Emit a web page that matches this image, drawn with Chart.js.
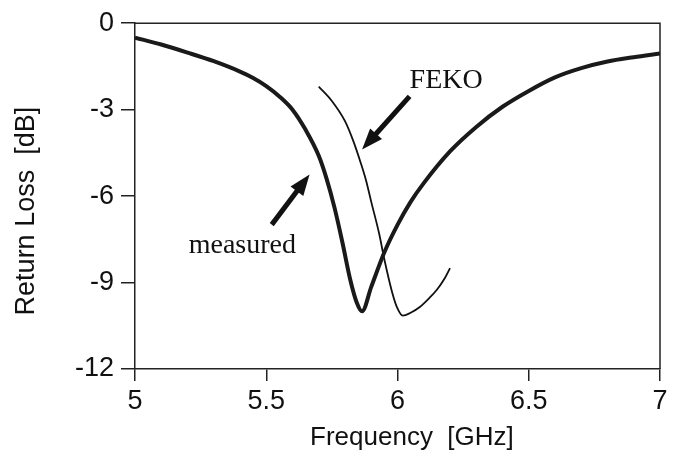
<!DOCTYPE html>
<html>
<head>
<meta charset="utf-8">
<script src="https://cdn.jsdelivr.net/npm/chart.js@4.4.0/dist/chart.umd.min.js"></script>
<style>
  body { margin: 0; background: #fff; }
  #wrap { width: 684px; height: 463px; }
</style>
</head>
<body>
<div id="wrap"><canvas id="chart"></canvas></div>
<script>
// measured return loss
const measuredFreq = [5.0, 5.1, 5.2, 5.3, 5.4, 5.45, 5.5, 5.55, 5.6, 5.65, 5.7, 5.73, 5.76, 5.79, 5.82, 5.845, 5.865,
  5.9, 5.95, 6.0, 6.05, 6.1, 6.2, 6.3, 6.4, 6.5, 6.6, 6.7, 6.8, 6.9, 7.0];
const measuredRL = [-0.5, -0.74, -1.02, -1.32, -1.68, -1.9, -2.18, -2.54, -3.0, -3.7, -4.6, -5.4, -6.4, -7.6, -8.9, -9.7, -10.0,
  -9.15, -7.95, -7.0, -6.2, -5.55, -4.45, -3.6, -2.9, -2.35, -1.88, -1.56, -1.33, -1.18, -1.05];

// FEKO simulation
const fekoFreq = [5.70, 5.75, 5.80, 5.83, 5.86, 5.88, 5.90, 5.93, 5.95, 5.98, 6.00, 6.02, 6.05, 6.085, 6.12, 6.15, 6.18, 6.20];
const fekoRL = [-2.2, -2.7, -3.4, -4.05, -4.85, -5.45, -6.2, -7.3, -8.2, -9.35, -9.9, -10.15, -10.05, -9.85, -9.55, -9.25, -8.85, -8.5];

const xTicks = [5, 5.5, 6, 6.5, 7];
const yTicks = [-12, -9, -6, -3, 0];

const toPoints = (xs, ys) => xs.map((x, i) => ({ x: x, y: ys[i] }));

// annotation arrows, in data units: [tailX, tailY, tipX, tipY]
const arrows = [
  [6.046, -2.54, 5.865, -4.38],
  [5.521, -6.99, 5.665, -5.25]
];
const notes = [
  { text: "FEKO", x: 6.046, y: -2.26, align: "left" },
  { text: "measured", x: 5.409, y: -7.99, align: "center" }
];

const frame = {
  id: 'frame',
  afterDraw(chart) {
    const { ctx, chartArea: a } = chart;
    ctx.save();
    ctx.strokeStyle = '#222';
    ctx.lineWidth = 1.5;
    ctx.beginPath();
    ctx.moveTo(a.left, a.top);
    ctx.lineTo(a.right, a.top);
    ctx.lineTo(a.right, a.bottom);
    ctx.stroke();
    ctx.restore();
  }
};

const notesPlugin = {
  id: 'notes',
  afterDatasetsDraw(chart) {
    const { ctx, scales } = chart;
    ctx.save();
    ctx.fillStyle = '#111';
    ctx.strokeStyle = '#111';
    arrows.forEach(a => {
      const x0 = scales.x.getPixelForValue(a[0]), y0 = scales.y.getPixelForValue(a[1]);
      const x1 = scales.x.getPixelForValue(a[2]), y1 = scales.y.getPixelForValue(a[3]);
      const ang = Math.atan2(y1 - y0, x1 - x0);
      const headLen = 21, headW = 8;
      const bx = x1 - headLen * Math.cos(ang), by = y1 - headLen * Math.sin(ang);
      ctx.lineWidth = 5;
      ctx.beginPath();
      ctx.moveTo(x0, y0);
      ctx.lineTo(bx + 3 * Math.cos(ang), by + 3 * Math.sin(ang));
      ctx.stroke();
      ctx.beginPath();
      ctx.moveTo(x1, y1);
      ctx.lineTo(bx + headW * Math.sin(ang), by - headW * Math.cos(ang));
      ctx.lineTo(bx - headW * Math.sin(ang), by + headW * Math.cos(ang));
      ctx.closePath();
      ctx.fill();
    });
    ctx.font = '28px "Liberation Serif", "Times New Roman", serif';
    ctx.textBaseline = 'alphabetic';
    notes.forEach(n => {
      ctx.textAlign = n.align;
      ctx.fillText(n.text, scales.x.getPixelForValue(n.x), scales.y.getPixelForValue(n.y));
    });
    ctx.restore();
  }
};

const tickFont = { family: '"Liberation Sans", Arial, sans-serif', size: 27 };
const titleFont = { family: '"Liberation Sans", Arial, sans-serif', size: 26 };

new Chart(document.getElementById('chart').getContext('2d'), {
  type: 'line',
  data: {
    datasets: [
      {
        label: 'measured',
        data: toPoints(measuredFreq, measuredRL),
        borderColor: '#1a1a1a',
        borderWidth: 4,
        pointRadius: 0,
        cubicInterpolationMode: 'monotone'
      },
      {
        label: 'FEKO',
        data: toPoints(fekoFreq, fekoRL),
        borderColor: '#111',
        borderWidth: 1.8,
        pointRadius: 0,
        cubicInterpolationMode: 'monotone'
      }
    ]
  },
  options: {
    responsive: true,
    maintainAspectRatio: false,
    animation: false,
    layout: { padding: { top: 19, right: 24, left: 0, bottom: 0 } },
    plugins: {
      legend: { display: false },
      tooltip: { enabled: false }
    },
    scales: {
      x: {
        type: 'linear',
        min: 5,
        max: 7,
        afterFit: s => { s.height = 94; },
        afterBuildTicks: s => { s.ticks = xTicks.map(v => ({ value: v })); },
        grid: { drawOnChartArea: false, tickLength: 12, color: '#222', lineWidth: 1.5 },
        border: { color: '#222', width: 1.5 },
        ticks: { font: tickFont, color: '#111', padding: 4, maxRotation: 0, callback: v => String(v) },
        title: {
          display: true,
          text: '    Frequency  [GHz]',
          font: titleFont,
          color: '#111',
          padding: { top: 0, bottom: 10 }
        }
      },
      y: {
        min: -12,
        max: 0,
        afterFit: s => { s.width = 135; },
        afterBuildTicks: s => { s.ticks = yTicks.map(v => ({ value: v })); },
        grid: { drawOnChartArea: false, tickLength: 14, color: '#222', lineWidth: 1.5 },
        border: { color: '#222', width: 1.5 },
        ticks: { font: tickFont, color: '#111', padding: 7, callback: v => String(v) },
        title: {
          display: true,
          text: 'Return Loss  [dB]    ',
          font: tickFont,
          color: '#111',
          padding: { top: 10, bottom: 0 }
        }
      }
    }
  },
  plugins: [frame, notesPlugin]
});
</script>
</body>
</html>
